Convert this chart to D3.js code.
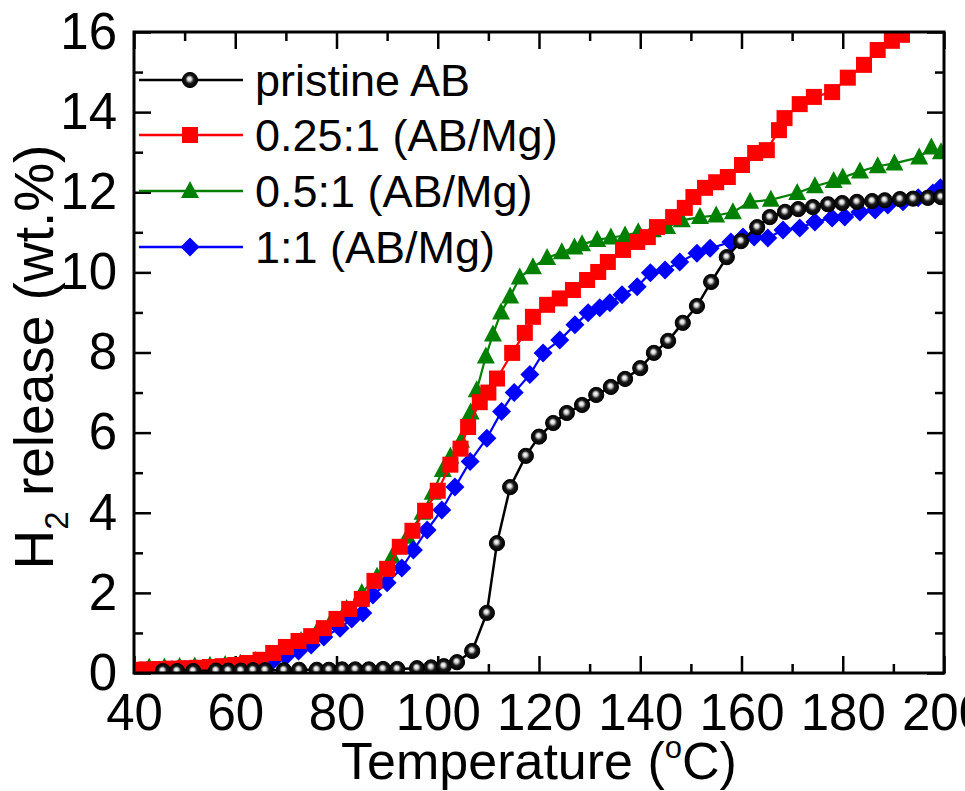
<!DOCTYPE html>
<html>
<head>
<meta charset="utf-8">
<script src="https://cdn.jsdelivr.net/npm/d3@7/dist/d3.min.js"></script>
<style>
  html, body { margin: 0; padding: 0; background: #fff; }
  svg text { font-family: "Liberation Sans", Arial, Helvetica, sans-serif; fill: #000; }
</style>
</head>
<body>
<svg id="chart" width="965" height="791"></svg>
<script>
// Temperature (°C) and H2 release (wt.%) for each sample
const pristineT = [45.7, 48.5, 51.7, 56.2, 58.6, 61.1, 63.5, 65.9, 69.6, 72.6, 76.1, 78.5, 81.1, 83.7, 86.4, 89.2, 92.0, 95.9, 98.7, 101.2, 103.8, 106.8, 109.7, 111.7, 114.3, 117.4, 120.0, 122.8, 125.5, 128.5, 131.3, 134.2, 137.0, 140.0, 142.7, 145.5, 148.4, 151.2, 154.0, 157.1, 159.9, 163.1, 165.6, 168.6, 171.2, 174.1, 177.1, 179.9, 182.8, 185.8, 188.3, 191.3, 193.9, 196.8, 199.4];
const pristineH = [0.05, 0.05, 0.05, 0.06, 0.06, 0.06, 0.07, 0.07, 0.07, 0.08, 0.08, 0.08, 0.09, 0.09, 0.09, 0.10, 0.10, 0.12, 0.14, 0.17, 0.27, 0.55, 1.50, 3.24, 4.64, 5.42, 5.90, 6.24, 6.49, 6.69, 6.94, 7.14, 7.34, 7.61, 7.99, 8.29, 8.74, 9.16, 9.76, 10.38, 10.78, 11.13, 11.38, 11.51, 11.58, 11.63, 11.70, 11.73, 11.76, 11.78, 11.80, 11.83, 11.84, 11.86, 11.88];

const q025T = [40, 42.5, 45, 47.5, 50, 52.5, 55, 57.5, 60, 62.5, 65, 67.5, 70, 72.5, 75, 77.5, 80, 82.5, 85, 87.5, 90, 92.5, 95, 97.5, 100, 102.5, 104.5, 106, 108.3, 110, 111.7, 114.7, 117.2, 118.8, 121.6, 124.1, 126.7, 129.5, 131.7, 133.6, 136.6, 139.4, 141.5, 143.3, 146.5, 148.8, 150.5, 152.8, 155, 157.3, 160.1, 162.7, 165, 167.4, 168.5, 171.5, 174.3, 177.9, 181, 184.2, 186.9, 189.7, 191.7, 194];
const q025H = [0.08, 0.09, 0.10, 0.11, 0.12, 0.13, 0.15, 0.17, 0.20, 0.25, 0.33, 0.50, 0.65, 0.80, 0.92, 1.12, 1.35, 1.60, 1.85, 2.30, 2.60, 3.15, 3.55, 4.05, 4.55, 5.20, 5.60, 6.14, 6.76, 7.00, 7.35, 7.99, 8.49, 8.89, 9.19, 9.35, 9.56, 9.81, 10.01, 10.26, 10.56, 10.76, 10.88, 11.13, 11.38, 11.61, 11.88, 12.11, 12.25, 12.38, 12.68, 12.98, 13.05, 13.55, 13.85, 14.20, 14.38, 14.50, 14.86, 15.18, 15.55, 15.78, 15.93, 16.30];

const q05T = [40, 43, 46, 49, 52, 55, 58, 61, 64, 67, 70, 73, 76, 79, 82, 85, 88, 91, 94, 97, 99, 101, 102.5, 104.6, 106.5, 107.7, 109.5, 110.9, 112.5, 114.3, 116.2, 118.8, 121.6, 124.5, 127, 128.5, 131.5, 134.2, 137, 139.6, 142.5, 145.3, 148.2, 151.8, 155, 158.3, 161.7, 165.8, 171, 174.5, 178.2, 180, 183.4, 186.9, 190.2, 195.1, 197.5, 199.4];
const q05H = [0.12, 0.13, 0.14, 0.15, 0.16, 0.18, 0.20, 0.23, 0.30, 0.40, 0.60, 0.80, 1.00, 1.30, 1.60, 2.00, 2.40, 2.90, 3.40, 4.00, 4.50, 5.07, 5.40, 5.80, 6.50, 7.06, 7.90, 8.45, 9.00, 9.40, 9.87, 10.13, 10.36, 10.50, 10.62, 10.70, 10.81, 10.87, 10.92, 11.00, 11.05, 11.13, 11.30, 11.38, 11.42, 11.50, 11.76, 11.81, 11.98, 12.15, 12.28, 12.37, 12.52, 12.65, 12.72, 12.87, 13.12, 13.00];

const q1T = [40, 42.5, 45, 47.5, 50, 52.5, 55, 57.5, 60, 62.5, 65, 67.5, 70, 72.5, 75, 77.5, 80.7, 83, 85.2, 87.2, 90, 92.9, 95.2, 97.9, 100.8, 103.4, 106.4, 109.7, 112.6, 115.1, 118.2, 120.8, 124.1, 127.1, 129.7, 132, 134, 136.4, 139.4, 142, 144.9, 147.8, 151.2, 153.8, 157.9, 160.3, 162.5, 165.2, 168.2, 171.5, 174.5, 177.9, 180.4, 183.4, 186.4, 188.9, 191.9, 194.9, 197.8, 199.3];
const q1H = [0.05, 0.06, 0.07, 0.08, 0.09, 0.10, 0.11, 0.13, 0.15, 0.18, 0.24, 0.32, 0.42, 0.55, 0.70, 0.90, 1.12, 1.35, 1.50, 1.95, 2.25, 2.62, 3.07, 3.57, 4.07, 4.64, 5.28, 5.86, 6.53, 7.00, 7.45, 7.99, 8.31, 8.69, 8.99, 9.12, 9.24, 9.44, 9.64, 9.99, 10.06, 10.26, 10.48, 10.60, 10.76, 10.88, 10.88, 10.86, 11.06, 11.11, 11.26, 11.36, 11.38, 11.51, 11.56, 11.68, 11.76, 11.86, 11.98, 12.11];

const seriesNames = ["pristine AB", "0.25:1 (AB/Mg)", "0.5:1 (AB/Mg)", "1:1 (AB/Mg)"];
const seriesColors = ["#000000", "#ff0000", "#008000", "#0000ff"];
const seriesShapes = ["sphere", "square", "triangle", "diamond"];

const xTickValues = [40, 60, 80, 100, 120, 140, 160, 180, 200];
const yTickValues = [0, 2, 4, 6, 8, 10, 12, 14, 16];

// ---- layout ----
const plotL = 134, plotR = 944, plotT = 32, plotB = 673;

const svg = d3.select("#chart");

const x = d3.scaleLinear().domain([40, 200]).range([plotL, plotR]);
const y = d3.scaleLinear().domain([0, 16]).range([plotB, plotT]);

const defs = svg.append("defs");
defs.append("clipPath").attr("id", "plotClip")
  .append("rect").attr("x", plotL).attr("y", plotT)
  .attr("width", plotR - plotL).attr("height", plotB - plotT);

const grad = defs.append("radialGradient").attr("id", "sphereGrad")
  .attr("cx", "0.5").attr("cy", "0.5").attr("r", "0.5")
  .attr("fx", "0.45").attr("fy", "0.4");
grad.append("stop").attr("offset", "0%").attr("stop-color", "#ffffff");
grad.append("stop").attr("offset", "25%").attr("stop-color", "#d8d8d8");
grad.append("stop").attr("offset", "55%").attr("stop-color", "#1a1a1a");
grad.append("stop").attr("offset", "100%").attr("stop-color", "#000000");

// ---- axes (ticks pointing inward on all four sides) ----
const majorLen = 17, minorLen = 9;
const fontSize = 51;
const minorX = d3.range(50, 200, 20);
const minorY = d3.range(1, 16, 2);

const gx = svg.append("g").attr("transform", `translate(0,${plotB})`)
  .call(d3.axisBottom(x).tickValues(xTickValues).tickSize(-majorLen).tickSizeOuter(0).tickPadding(21));
const gxMinor = svg.append("g").attr("transform", `translate(0,${plotB})`)
  .call(d3.axisBottom(x).tickValues(minorX).tickSize(-minorLen).tickSizeOuter(0).tickFormat(""));
const gxTop = svg.append("g").attr("transform", `translate(0,${plotT})`)
  .call(d3.axisTop(x).tickValues(xTickValues).tickSize(-majorLen).tickSizeOuter(0).tickFormat(""));
const gxTopMinor = svg.append("g").attr("transform", `translate(0,${plotT})`)
  .call(d3.axisTop(x).tickValues(minorX).tickSize(-minorLen).tickSizeOuter(0).tickFormat(""));

const gy = svg.append("g").attr("transform", `translate(${plotL},0)`)
  .call(d3.axisLeft(y).tickValues(yTickValues).tickSize(-majorLen).tickSizeOuter(0).tickPadding(17));
const gyMinor = svg.append("g").attr("transform", `translate(${plotL},0)`)
  .call(d3.axisLeft(y).tickValues(minorY).tickSize(-minorLen).tickSizeOuter(0).tickFormat(""));
const gyRight = svg.append("g").attr("transform", `translate(${plotR},0)`)
  .call(d3.axisRight(y).tickValues(yTickValues).tickSize(-majorLen).tickSizeOuter(0).tickFormat(""));
const gyRightMinor = svg.append("g").attr("transform", `translate(${plotR},0)`)
  .call(d3.axisRight(y).tickValues(minorY).tickSize(-minorLen).tickSizeOuter(0).tickFormat(""));

[gx, gxMinor, gxTop, gxTopMinor, gy, gyMinor, gyRight, gyRightMinor].forEach(g => {
  g.select(".domain").remove();
  g.selectAll(".tick line").attr("stroke", "#000").attr("stroke-width", 2.5);
  g.selectAll("text").attr("font-size", fontSize)
    .attr("font-family", "'Liberation Sans', Arial, sans-serif").attr("fill", "#000");
});

// ---- data series ----
const seriesData = [
  d3.zip(pristineT, pristineH),
  d3.zip(q025T, q025H),
  d3.zip(q05T, q05H),
  d3.zip(q1T, q1H)
];

function drawMarker(sel, shape, color) {
  if (shape === "sphere") {
    sel.append("circle").attr("r", 7.6).attr("fill", "url(#sphereGrad)")
      .attr("stroke", "#000").attr("stroke-width", 1);
  } else if (shape === "square") {
    sel.append("rect").attr("x", -8).attr("y", -8).attr("width", 16).attr("height", 16)
      .attr("fill", color);
  } else if (shape === "triangle") {
    sel.append("path").attr("d", "M0,-10 L9,7 L-9,7 Z").attr("fill", color);
  } else if (shape === "diamond") {
    sel.append("path").attr("d", "M0,-9.5 L9.5,0 L0,9.5 L-9.5,0 Z").attr("fill", color);
  }
}

const line = d3.line().x(d => x(d[0])).y(d => y(d[1]));
const plot = svg.append("g").attr("clip-path", "url(#plotClip)");

// stacking order: green, blue, red, black on top
[2, 3, 1, 0].forEach(i => {
  const g = plot.append("g");
  g.append("path").datum(seriesData[i]).attr("d", line)
    .attr("fill", "none").attr("stroke", seriesColors[i])
    .attr("stroke-width", i === 0 ? 2.5 : 2.2);
  g.selectAll("g.pt").data(seriesData[i]).enter().append("g")
    .attr("class", "pt")
    .attr("transform", d => `translate(${x(d[0])},${y(d[1])})`)
    .each(function () { drawMarker(d3.select(this), seriesShapes[i], seriesColors[i]); });
});

// ---- frame ----
svg.append("rect").attr("x", plotL).attr("y", plotT)
  .attr("width", plotR - plotL).attr("height", plotB - plotT)
  .attr("fill", "none").attr("stroke", "#000").attr("stroke-width", 3);

// ---- legend ----
const legendY = [80, 135, 191, 247];
const legend = svg.append("g");
seriesNames.forEach((name, i) => {
  const g = legend.append("g").attr("transform", `translate(0,${legendY[i]})`);
  g.append("line").attr("x1", 139).attr("x2", 243).attr("y1", 0).attr("y2", 0)
    .attr("stroke", seriesColors[i]).attr("stroke-width", 2.5);
  const m = g.append("g").attr("transform", "translate(190,0)");
  drawMarker(m, seriesShapes[i], seriesColors[i]);
  g.append("text").attr("x", 255).attr("y", 0).attr("dy", "0.36em")
    .attr("font-size", 45).text(name);
});

// ---- axis titles ----
const xt = svg.append("text").attr("x", (plotL + plotR) / 2).attr("y", 779)
  .attr("text-anchor", "middle").attr("font-size", 52);
xt.append("tspan").text("Temperature (");
xt.append("tspan").attr("font-size", 31).attr("dy", -21).text("o");
xt.append("tspan").attr("dy", 21).text("C)");

const yt = svg.append("text")
  .attr("transform", `translate(53,357) rotate(-90)`)
  .attr("text-anchor", "middle").attr("font-size", 55);
yt.append("tspan").text("H");
yt.append("tspan").attr("font-size", 33).attr("dy", 15).text("2");
yt.append("tspan").attr("dy", -15).text(" release (wt.%)");
</script>
</body>
</html>
